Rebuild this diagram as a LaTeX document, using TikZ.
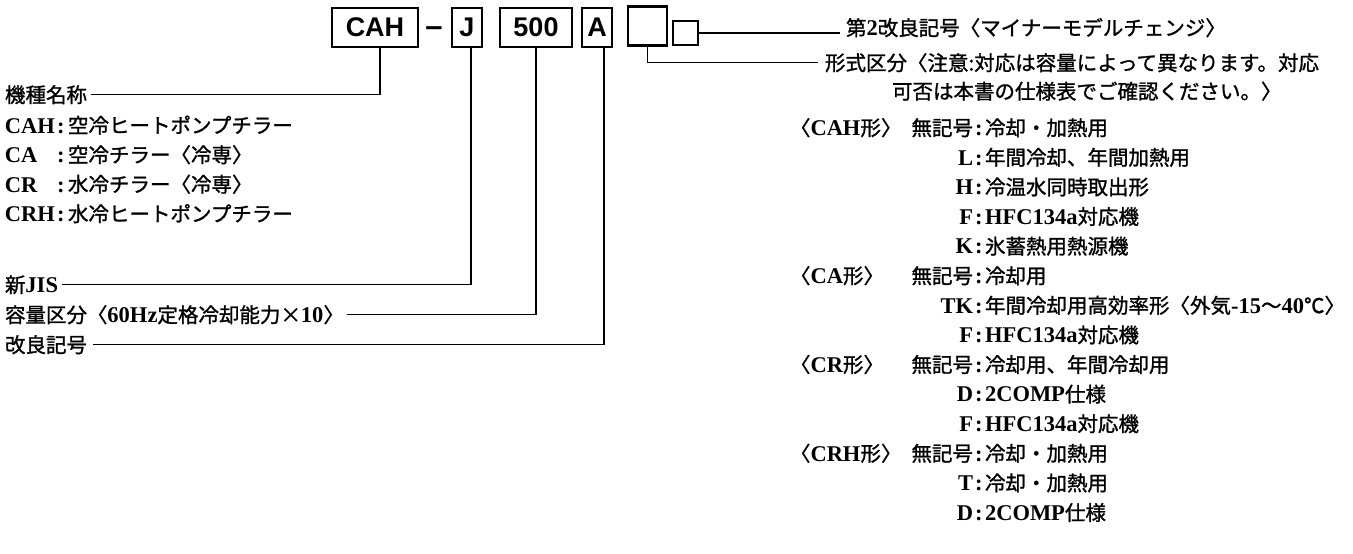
\documentclass[tikz,border=0pt]{standalone}
\usepackage{fontspec}
\setmainfont{Noto Sans CJK JP}[FakeBold=1.2]
\newfontfamily\latf{Liberation Serif}
\newfontfamily\boxf{Liberation Sans}
\newcommand\La[1]{{\latf\bfseries\fontsize{22.5}{24}\selectfont #1}}
\tikzset{
  txt/.style={inner sep=0pt, outer sep=0pt, font=\fontsize{20.5}{24}\selectfont, anchor=base west},
  txtr/.style={txt, anchor=base east},
  codebox/.style={draw, line width=2.2pt, minimum height=39pt, inner sep=0pt, font=\boxf\bfseries\fontsize{27}{30}\selectfont},
  leader/.style={line width=1.2pt},
}
\begin{document}
\begin{tikzpicture}[x=1pt,y=-1pt]
\useasboundingbox[fill=white] (0,0) rectangle (1353,554);
% code boxes
\node[codebox, minimum width=86pt] (cahbox) at (375,27.5) {CAH};
\node[inner sep=0pt, anchor=base, font=\boxf\bfseries\fontsize{31}{31}\selectfont] (dash) at (434,36.5) {–};
\node[codebox, minimum width=30pt] (jbox) at (467,27.5) {J};
\node[codebox, minimum width=72pt] (b500) at (536,27.5) {500};
\node[codebox, minimum width=30pt] (abox) at (597,27.5) {A};
\node[codebox, minimum width=39pt] (ebox) at (647.5,26) {};
\node[draw, line width=2.2pt, minimum width=25pt, minimum height=24pt, inner sep=0pt] (sbox) at (685.5,33) {};

% left texts
\node[txt] (kishu) at (5,102.5) {機種名称};
\node[txt] (l1a) at (5,133) {\La{CAH}};
\node[txt] (l1c) at (57,133) {\La{:}};
\node[txt] (l1t) at (68,133) {空冷ヒートポンプチラー};
\node[txt] (l2a) at (5,162.5) {\La{CA}};
\node[txt] (l2c) at (57,162.5) {\La{:}};
\node[txt] (l2t) at (68,162.5) {空冷チラー〈冷専〉};
\node[txt] (l3a) at (5,192) {\La{CR}};
\node[txt] (l3c) at (57,192) {\La{:}};
\node[txt] (l3t) at (68,192) {水冷チラー〈冷専〉};
\node[txt] (l4a) at (5,221.5) {\La{CRH}};
\node[txt] (l4c) at (57,221.5) {\La{:}};
\node[txt] (l4t) at (68,221.5) {水冷ヒートポンプチラー};
\node[txt] (shinjis) at (5,292.5) {新\La{JIS}};
\node[txt] (youryou) at (5,322.5) {容量区分〈\La{60Hz}定格冷却能力×\La{10}〉};
\node[txt] (kairyo) at (5,352.5) {改良記号};

% right texts
\node[txt] (dai2) at (846,35.5) {第\La{2}改良記号〈マイナーモデルチェンジ〉};
\node[txt] (keishiki) at (825,70.5) {形式区分〈注意:対応は容量によって異なります。対応};
\node[txt] (kahi) at (892,99) {可否は本書の仕様表でご確認ください。〉};

\def\cx{973}
\def\cc{975}
\def\tx{985}
% rows
\node[txt] (g1) at (790,135.5) {〈\La{CAH}形〉};
\node[txtr] (r0a) at (\cx,135.5) {無記号};
\node[txt] (r0c) at (\cc,135.5) {\La{:}};
\node[txt] (r0t) at (\tx,135.5) {冷却・加熱用};
\node[txtr] (r1a) at (\cx,165.1) {\La{L}};
\node[txt] (r1c) at (\cc,165.1) {\La{:}};
\node[txt] (r1t) at (\tx,165.1) {年間冷却、年間加熱用};
\node[txtr] (r2a) at (\cx,194.7) {\La{H}};
\node[txt] (r2c) at (\cc,194.7) {\La{:}};
\node[txt] (r2t) at (\tx,194.7) {冷温水同時取出形};
\node[txtr] (r3a) at (\cx,224.3) {\La{F}};
\node[txt] (r3c) at (\cc,224.3) {\La{:}};
\node[txt] (r3t) at (\tx,224.3) {\La{HFC134a}対応機};
\node[txtr] (r4a) at (\cx,253.9) {\La{K}};
\node[txt] (r4c) at (\cc,253.9) {\La{:}};
\node[txt] (r4t) at (\tx,253.9) {氷蓄熱用熱源機};
\node[txt] (g2) at (790,283.5) {〈\La{CA}形〉};
\node[txtr] (r5a) at (\cx,283.5) {無記号};
\node[txt] (r5c) at (\cc,283.5) {\La{:}};
\node[txt] (r5t) at (\tx,283.5) {冷却用};
\node[txtr] (r6a) at (\cx,313.1) {\La{TK}};
\node[txt] (r6c) at (\cc,313.1) {\La{:}};
\node[txt] (r6t) at (\tx,313.1) {年間冷却用高効率形〈外気\La{-15}〜\La{40}℃〉};
\node[txtr] (r7a) at (\cx,342.7) {\La{F}};
\node[txt] (r7c) at (\cc,342.7) {\La{:}};
\node[txt] (r7t) at (\tx,342.7) {\La{HFC134a}対応機};
\node[txt] (g3) at (790,372.3) {〈\La{CR}形〉};
\node[txtr] (r8a) at (\cx,372.3) {無記号};
\node[txt] (r8c) at (\cc,372.3) {\La{:}};
\node[txt] (r8t) at (\tx,372.3) {冷却用、年間冷却用};
\node[txtr] (r9a) at (\cx,401.9) {\La{D}};
\node[txt] (r9c) at (\cc,401.9) {\La{:}};
\node[txt] (r9t) at (\tx,401.9) {\La{2COMP}仕様};
\node[txtr] (r10a) at (\cx,431.5) {\La{F}};
\node[txt] (r10c) at (\cc,431.5) {\La{:}};
\node[txt] (r10t) at (\tx,431.5) {\La{HFC134a}対応機};
\node[txt] (g4) at (790,461.1) {〈\La{CRH}形〉};
\node[txtr] (r11a) at (\cx,461.1) {無記号};
\node[txt] (r11c) at (\cc,461.1) {\La{:}};
\node[txt] (r11t) at (\tx,461.1) {冷却・加熱用};
\node[txtr] (r12a) at (\cx,490.7) {\La{T}};
\node[txt] (r12c) at (\cc,490.7) {\La{:}};
\node[txt] (r12t) at (\tx,490.7) {冷却・加熱用};
\node[txtr] (r13a) at (\cx,520.3) {\La{D}};
\node[txt] (r13c) at (\cc,520.3) {\La{:}};
\node[txt] (r13t) at (\tx,520.3) {\La{2COMP}仕様};

% leaders
\draw[leader] ([xshift=5pt]cahbox.south) |- ([xshift=4pt]kishu.east);
\draw[leader] ([xshift=4pt]jbox.south) |- ([xshift=4pt]shinjis.east);
\draw[leader] (b500.south) |- ([xshift=3pt]youryou.east);
\draw[leader] ([xshift=7pt]abox.south) |- ([xshift=6pt]kairyo.east);
\draw[leader] (ebox.south) |- ([xshift=-7pt]keishiki.west);
\draw[leader] (sbox.east) -- ([xshift=-6pt]sbox.east -| dai2.west);
\end{tikzpicture}
\end{document}
